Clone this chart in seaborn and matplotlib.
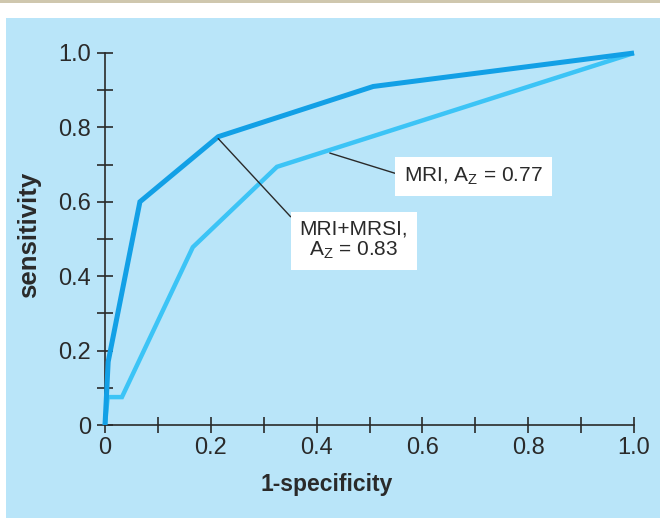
import matplotlib
matplotlib.use("Agg")
import matplotlib.pyplot as plt
import matplotlib.patches as mpatches
from matplotlib.ticker import MultipleLocator, FuncFormatter
import seaborn as sns
import pandas as pd

# Data
fpr_combined = [0.0, 0.006, 0.066, 0.214, 0.507, 1.0]
tpr_combined = [0.0, 0.17, 0.60, 0.775, 0.91, 1.0]
fpr_mri = [0.0, 0.005, 0.032, 0.166, 0.325, 1.0]
tpr_mri = [0.0, 0.075, 0.075, 0.478, 0.694, 1.0]
label_combined = "MRI+MRSI,\nA$_\\mathregular{Z}$ = 0.83"
label_mri = "MRI, A$_\\mathregular{Z}$ = 0.77"

sns.set_style("white")
plt.rcParams['font.family'] = ['Liberation Sans', 'DejaVu Sans']

BG = "#B9E5F9"
DARK = "#12A0E6"
LIGHT = "#3CC4F6"
INK = "#2a2a2a"

fig = plt.figure(figsize=(6.6, 5.18), dpi=100)
fig.patch.set_facecolor("white")
W, H = 660, 518
# top rule and blue panel
fig.add_artist(mpatches.Rectangle((0, 1 - 3 / H), 1, 3 / H, transform=fig.transFigure,
                                  facecolor="#CFC7AE", edgecolor="none", zorder=0))
fig.add_artist(mpatches.Rectangle((6 / W, 0), 1 - 6 / W, 1 - 18 / H, transform=fig.transFigure,
                                  facecolor=BG, edgecolor="none", zorder=0))

ax = fig.add_axes([105 / W, 1 - 425 / H, (634 - 105) / W, (425 - 53) / H])
ax.set_facecolor("none")

df = pd.concat([
    pd.DataFrame({"fpr": fpr_mri, "tpr": tpr_mri, "model": "MRI"}),
    pd.DataFrame({"fpr": fpr_combined, "tpr": tpr_combined, "model": "MRI+MRSI"}),
])
sns.lineplot(data=df, x="fpr", y="tpr", hue="model", palette={"MRI": LIGHT, "MRI+MRSI": DARK},
             estimator=None, sort=False, ax=ax, legend=False, clip_on=False)
for line in ax.get_lines():
    line.set_solid_joinstyle("miter")
    line.set_solid_capstyle("butt")
ax.get_lines()[0].set_linewidth(3.2)
ax.get_lines()[1].set_linewidth(3.6)
ax.get_lines()[1].set_zorder(3)

ax.set_xlim(0, 1)
ax.set_ylim(0, 1)
for s in ["top", "right"]:
    ax.spines[s].set_visible(False)
for s in ["left", "bottom"]:
    ax.spines[s].set_color(INK)
    ax.spines[s].set_linewidth(1.2)

fmt = FuncFormatter(lambda v, p: "0" if abs(v) < 1e-9 else f"{v:.1f}")
for axis in (ax.xaxis, ax.yaxis):
    axis.set_major_locator(MultipleLocator(0.2))
    axis.set_minor_locator(MultipleLocator(0.1))
    axis.set_major_formatter(fmt)
ax.tick_params(which="both", direction="inout", length=12, width=1.2, color=INK,
               labelsize=17, labelcolor=INK, pad=4,
               bottom=True, left=True)
ax.tick_params(axis="x", pad=3)

ax.set_xlabel("1-specificity", fontsize=16.5, fontweight="bold", color=INK)
ax.set_ylabel("sensitivity", fontsize=18.5, fontweight="bold", color=INK)
ax.xaxis.set_label_coords(0.42, -0.128)
ax.yaxis.set_label_coords(-0.12, 0.51)

bbox = dict(boxstyle="square,pad=0.42", facecolor="white", edgecolor="none")
ax.annotate(label_mri, xy=(0.425, 0.731), xytext=(0.697, 0.669),
            textcoords="data", fontsize=15, color=INK, ha="center", va="center",
            bbox=bbox, arrowprops=dict(arrowstyle="-", color=INK, lw=1.0, shrinkA=0, shrinkB=0,
                                       relpos=(0.0, 0.5)))
ax.annotate(label_combined, xy=(0.214, 0.77), xytext=(0.470, 0.497),
            textcoords="data", fontsize=15, color=INK, ha="center", va="center",
            linespacing=1.1, multialignment="center",
            bbox=bbox, arrowprops=dict(arrowstyle="-", color=INK, lw=1.0, shrinkA=0, shrinkB=0,
                                       relpos=(0.0, 0.83)))

fig.savefig("out.png", dpi=100, facecolor=fig.get_facecolor())
